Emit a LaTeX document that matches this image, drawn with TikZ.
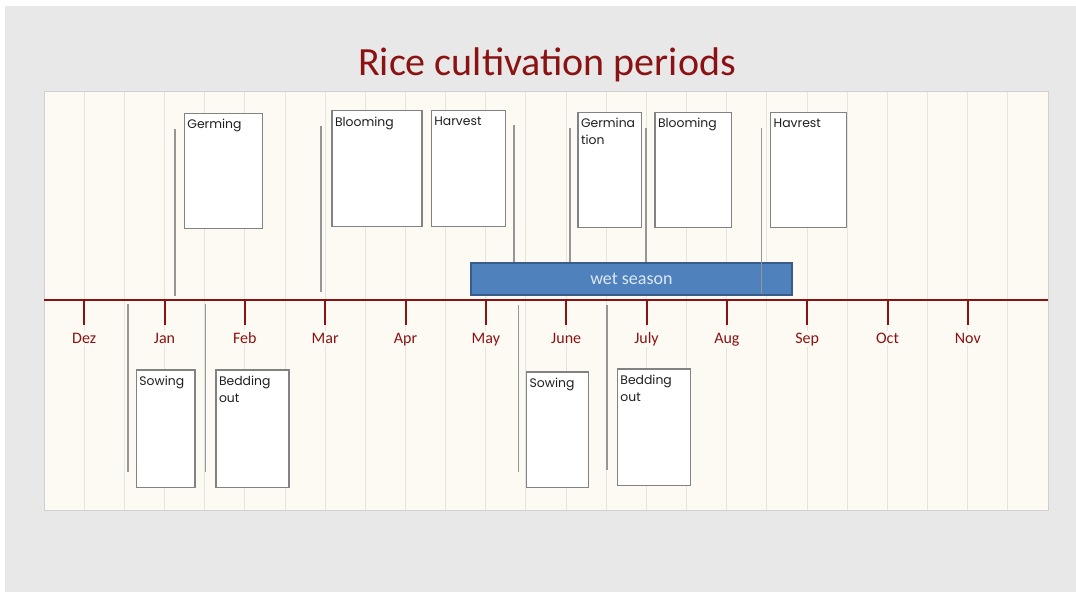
\documentclass[tikz,border=0pt]{standalone}
\usepackage{fontspec}
\setmainfont{Carlito}
\newfontfamily\notefont{Poppins}
\definecolor{darkred}{RGB}{139,18,18}
\definecolor{cream}{RGB}{253,250,243}
\definecolor{stripe}{RGB}{230,228,224}
\definecolor{panelborder}{RGB}{208,208,208}
\definecolor{bggray}{RGB}{232,232,232}
\definecolor{boxgray}{RGB}{130,130,130}
\definecolor{markgray}{RGB}{150,150,150}
\definecolor{wetfill}{RGB}{79,129,189}
\definecolor{wetdraw}{RGB}{56,93,138}
\definecolor{wettext}{RGB}{222,232,244}
\begin{document}
\begin{tikzpicture}[x=1pt,y=-1pt,
  phase/.style={draw=boxgray, line width=1.2pt, fill=white, inner sep=0pt, anchor=north west},
  phasetext/.style={font=\notefont\fontsize{12.4}{17}\selectfont, text=black!88, align=left,
    anchor=north west, inner sep=0pt, xshift=3.5pt, yshift=-6.5pt},
  marker/.style={draw=markgray, line width=1.4pt},
  month/.style={font=\fontsize{16}{18}\selectfont, text=darkred, fill=cream, inner sep=1.5pt, anchor=base},
  wet/.style={draw=wetdraw, line width=1.8pt, fill=wetfill, inner sep=0pt, anchor=north west,
    text=wettext, font=\fontsize{18}{20}\selectfont}
]
\useasboundingbox (0,0) rectangle (1076,592);
% page and slide background
\fill[white] (0,0) rectangle (1076,592);
\fill[bggray] (5,6) rectangle (1076,592);

% title
\node[font=\fontsize{40}{44}\selectfont, text=darkred, anchor=base, inner sep=0pt] (title) at (547,75) {Rice cultivation periods};

% striped panel
\fill[cream] (44,91) rectangle (1048,510);
\foreach \k in {1,...,24}
  \draw[stripe, line width=0.9pt] ({44+40.16*\k},91) -- ++(0,419);
\draw[panelborder, line width=1pt] (44,91) rectangle (1048,510);

% timeline with month ticks
\draw[darkred, line width=2.7pt] (44,300) -- (1048,300);
\foreach \m [count=\i from 0] in {Dez,Jan,Feb,Mar,Apr,May,June,July,Aug,Sep,Oct,Nov} {
  \draw[darkred, line width=2pt] ({84.2+80.33*\i},300) -- ++(0,25);
  \node[month] (m\i) at ({84.2+80.33*\i},343) {\m};
}

% wet season bar
\node[wet, minimum width=321, minimum height=32] (wet) at (470,262) {wet season};

% phases above the timeline
\node[phase, minimum width=78, minimum height=115.5] (germ) at (183.7,112.7) {};
\node[phasetext] (germT) at (germ.north west) {Germing};
\node[phase, minimum width=90, minimum height=115.5] (bloom1) at (331.3,110) {};
\node[phasetext] (bloom1T) at (bloom1.north west) {Blooming};
\node[phase, minimum width=74, minimum height=115.5] (harv1) at (430.7,110) {};
\node[phasetext] (harv1T) at (harv1.north west) {Harvest};
\node[phase, minimum width=63.4, minimum height=115.5] (germ2) at (577.3,111.7) {};
\node[phasetext] (germ2T) at (germ2.north west) {Germina\\tion};
\node[phase, minimum width=76.4, minimum height=115.5] (bloom2) at (654.3,111.7) {};
\node[phasetext] (bloom2T) at (bloom2.north west) {Blooming};
\node[phase, minimum width=75.7, minimum height=115.5] (harv2) at (770,111.7) {};
\node[phasetext] (harv2T) at (harv2.north west) {Havrest};

% phases below the timeline
\node[phase, minimum width=58.6, minimum height=117.4] (sow1) at (135.7,369.3) {};
\node[phasetext] (sow1T) at (sow1.north west) {Sowing};
\node[phase, minimum width=73, minimum height=117.4] (bed1) at (215.3,369.3) {};
\node[phasetext] (bed1T) at (bed1.north west) {Bedding\\out};
\node[phase, minimum width=61.7, minimum height=115.4] (sow2) at (526,371.3) {};
\node[phasetext] (sow2T) at (sow2.north west) {Sowing};
\node[phase, minimum width=73.3, minimum height=116.4] (bed2) at (616.7,368.3) {};
\node[phasetext] (bed2T) at (bed2.north west) {Bedding\\out};

% period markers
\draw[marker] (175,129) -- (175,295.7);
\draw[marker] (321,126) -- (321,292);
\draw[marker] (514,125) -- (514,262);
\draw[marker] (570,128.3) -- (570,262);
\draw[marker] (646,128) -- (646,262);
\draw[marker] (761.7,128) -- (761.7,294);
\draw[marker] (128,304) -- (128,471.7);
\draw[marker] (205.7,304) -- (205.7,471.7);
\draw[marker] (518.3,305) -- (518.3,471.7);
\draw[marker] (607,305) -- (607,470);
\end{tikzpicture}
\end{document}
